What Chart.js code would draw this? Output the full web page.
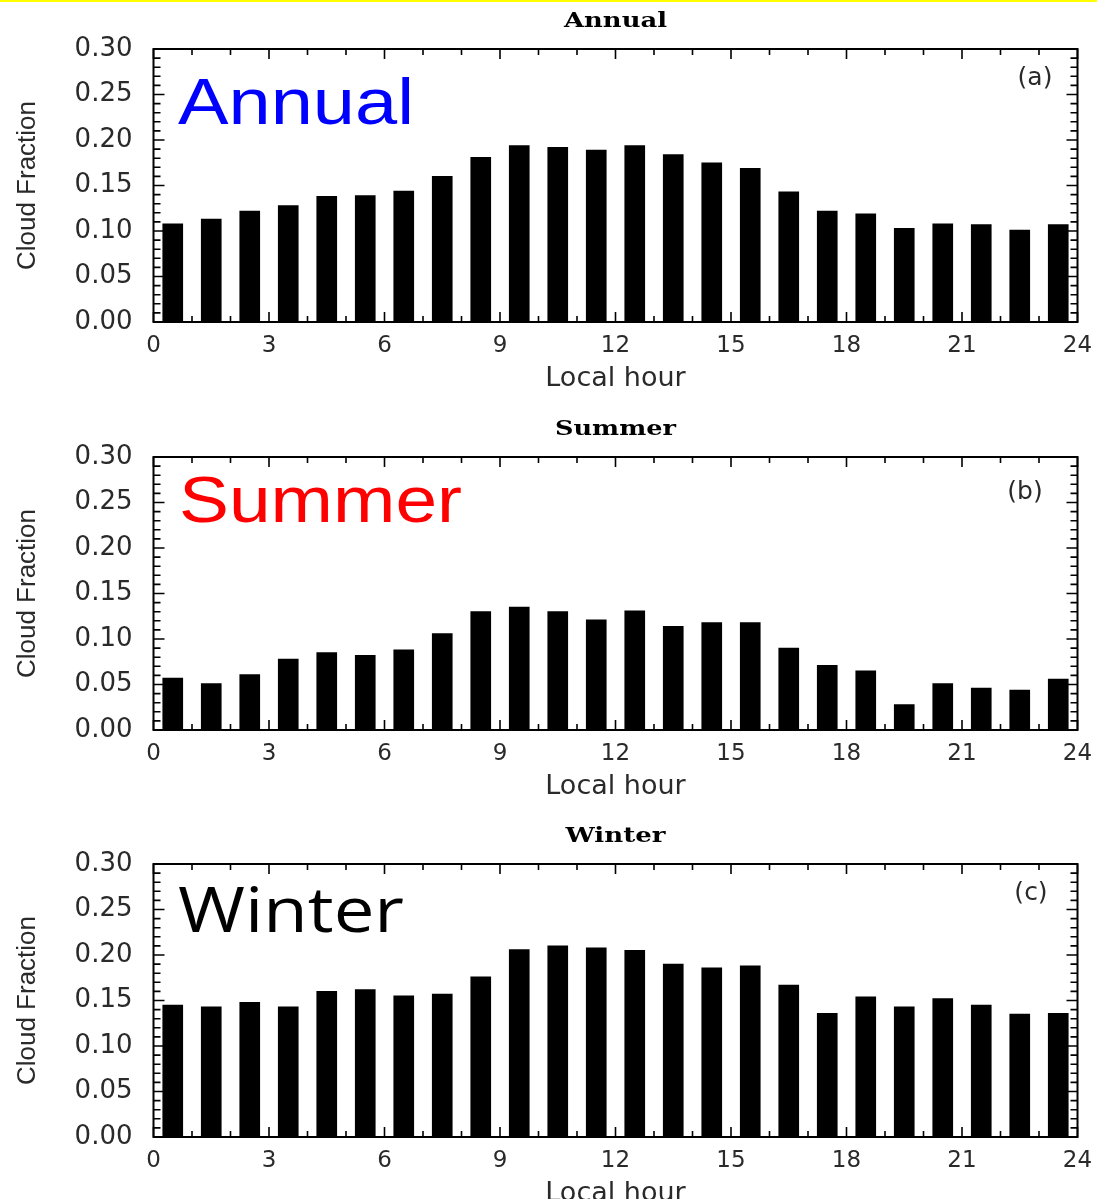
<!DOCTYPE html>
<html>
<head>
<meta charset="utf-8">
<script src="https://cdn.jsdelivr.net/npm/chart.js@4.4.1/dist/chart.umd.min.js"></script>
<style>
  html, body { margin: 0; padding: 0; background: #fff; overflow: hidden; }
  #wrap { position: relative; width: 1097px; height: 1199px; overflow: hidden; background: #fff; }
  canvas { position: absolute; left: 0; }
  #topline { position: absolute; left: 0; top: 0; width: 1097px; height: 2px; background: #ffff00; z-index: 5; }
</style>
</head>
<body>
<div id="wrap">
  <div id="topline"></div>
  <canvas id="c0" width="1097" height="408" style="top:0px"></canvas>
  <canvas id="c1" width="1097" height="408" style="top:408px"></canvas>
  <canvas id="c2" width="1097" height="408" style="top:815px"></canvas>
</div>
<script>
// ---- data ----
const hours = [0.5, 1.5, 2.5, 3.5, 4.5, 5.5, 6.5, 7.5, 8.5, 9.5, 10.5, 11.5,
               12.5, 13.5, 14.5, 15.5, 16.5, 17.5, 18.5, 19.5, 20.5, 21.5, 22.5, 23.5];
const annual = [0.108, 0.113, 0.122, 0.128, 0.138, 0.139, 0.144, 0.160, 0.181, 0.194, 0.192, 0.189,
                0.194, 0.184, 0.175, 0.169, 0.143, 0.122, 0.119, 0.103, 0.108, 0.107, 0.101, 0.107];
const summer = [0.057, 0.051, 0.061, 0.078, 0.085, 0.082, 0.088, 0.106, 0.130, 0.135, 0.130, 0.121,
                0.131, 0.114, 0.118, 0.118, 0.090, 0.071, 0.065, 0.028, 0.051, 0.046, 0.044, 0.056];
const winter = [0.145, 0.143, 0.148, 0.143, 0.160, 0.162, 0.155, 0.157, 0.176, 0.206, 0.210, 0.208,
                0.205, 0.190, 0.186, 0.188, 0.167, 0.136, 0.154, 0.143, 0.152, 0.145, 0.135, 0.136];
const xTickValues = [0, 3, 6, 9, 12, 15, 18, 21, 24];
const xTickLabels = ['0', '3', '6', '9', '12', '15', '18', '21', '24'];
const yTickValues = [0, 0.05, 0.10, 0.15, 0.20, 0.25, 0.30];
const yTickLabels = ['0.00', '0.05', '0.10', '0.15', '0.20', '0.25', '0.30'];
const panelTitles = ['Annual', 'Summer', 'Winter'];
const panelTags = ['(a)', '(b)', '(c)'];
const bigLabels = ['Annual', 'Summer', 'Winter'];
const xAxisTitle = 'Local hour';
const yAxisTitle = 'Cloud Fraction';

// ---- styling ----
const TEXT = '#2a2a2a';
const panelStyles = [
  { tagX: 1035, tagY: 78, bigColor: '#0000ff', bigFamily: '"Liberation Sans", Arial, sans-serif', bigX: 178, bigY: 124, bigW: 236, bigSize: 65, titleW: 103 },
  { tagX: 1025, tagY: 84, bigColor: '#ff0000', bigFamily: '"Liberation Sans", Arial, sans-serif', bigX: 179, bigY: 114, bigW: 283, bigSize: 64, titleW: 121 },
  { tagX: 1031, tagY: 78, bigColor: '#000000', bigFamily: '"Open Sans", Lato, sans-serif', bigX: 178, bigY: 117, bigW: 226, bigSize: 62, titleW: 100 }
];

function fitText(ctx, text, x, y, font, color, targetW, align) {
  ctx.save();
  ctx.font = font;
  ctx.fillStyle = color;
  ctx.textBaseline = 'alphabetic';
  ctx.textAlign = 'left';
  const w = ctx.measureText(text).width;
  const sx = targetW ? targetW / w : 1;
  const left = align === 'center' ? x - (w * sx) / 2 : x;
  ctx.translate(left, y);
  ctx.scale(sx, 1);
  ctx.fillText(text, 0, 0);
  ctx.restore();
}

const decor = {
  id: 'decor',
  afterDatasetsDraw(chart, args, opts) {
    const { ctx, chartArea: a, scales: { x, y } } = chart;
    ctx.save();
    ctx.strokeStyle = '#000';
    ctx.lineWidth = 1.6;
    ctx.beginPath();
    for (let h = 0; h <= 24; h++) {
      const px = x.getPixelForValue(h);
      const len = h % 3 === 0 ? 10 : 6;
      ctx.moveTo(px, a.top); ctx.lineTo(px, a.top + len);
      ctx.moveTo(px, a.bottom); ctx.lineTo(px, a.bottom - len);
    }
    for (let k = 0; k <= 30; k++) {
      const py = y.getPixelForValue(k / 100);
      const len = k % 5 === 0 ? 11 : 7;
      ctx.moveTo(a.left, py); ctx.lineTo(a.left + len, py);
      ctx.moveTo(a.right, py); ctx.lineTo(a.right - len, py);
    }
    ctx.stroke();
    ctx.lineWidth = 2;
    ctx.strokeRect(a.left, a.top, a.right - a.left, a.bottom - a.top);
    ctx.restore();
  },
  afterDraw(chart, args, o) {
    const ctx = chart.ctx;
    fitText(ctx, o.title, 615.5, 27, 'bold 20px "DejaVu Serif", "Liberation Serif", serif', '#000', o.titleW, 'center');
    ctx.save();
    ctx.font = '25px "DejaVu Sans", sans-serif';
    ctx.fillStyle = TEXT;
    ctx.textAlign = 'center';
    ctx.textBaseline = 'middle';
    ctx.fillText(o.tag, o.tagX, o.tagY);
    ctx.restore();
    fitText(ctx, o.big, o.bigX, o.bigY, o.bigSize + 'px ' + o.bigFamily, o.bigColor, o.bigW, 'left');
  }
};

function makeChart(id, values, idx) {
  const st = panelStyles[idx];
  const data = hours.map((h, i) => ({ x: h, y: values[i] }));
  return new Chart(document.getElementById(id), {
    type: 'bar',
    data: {
      datasets: [{
        data: data,
        backgroundColor: '#000',
        borderWidth: 0,
        barThickness: 20
      }]
    },
    options: {
      responsive: false,
      devicePixelRatio: 1,
      animation: false,
      layout: { padding: { top: 49, right: 19.5, bottom: 0, left: 0 } },
      plugins: {
        legend: { display: false },
        tooltip: { enabled: false },
        decor: {
          title: panelTitles[idx], tag: panelTags[idx], big: bigLabels[idx],
          tagX: st.tagX, tagY: st.tagY, bigColor: st.bigColor, bigFamily: st.bigFamily,
          bigX: st.bigX, bigY: st.bigY, bigW: st.bigW, bigSize: st.bigSize, titleW: st.titleW
        }
      },
      scales: {
        x: {
          type: 'linear',
          min: 0, max: 24,
          offset: false,
          grid: { display: false, drawTicks: false, offset: false },
          border: { display: false },
          afterBuildTicks: (s) => { s.ticks = xTickValues.map(v => ({ value: v })); },
          afterFit: (s) => { s.height = 86; s.paddingLeft = 0; s.paddingRight = 0; },
          ticks: {
            padding: 10,
            maxRotation: 0,
            autoSkip: false,
            color: TEXT,
            font: { family: '"DejaVu Sans", sans-serif', size: 23 },
            callback: (v, i) => xTickLabels[i]
          },
          title: {
            display: true,
            text: xAxisTitle,
            color: TEXT,
            font: { family: '"DejaVu Sans", sans-serif', size: 27 },
            padding: { top: 0, bottom: 13 }
          }
        },
        y: {
          min: 0, max: 0.3,
          grid: { display: false, drawTicks: false },
          border: { display: false },
          afterBuildTicks: (s) => { s.ticks = yTickValues.map(v => ({ value: v })); },
          afterFit: (s) => { s.width = 153.5; s.paddingTop = 0; s.paddingBottom = 0; },
          ticks: {
            padding: 21,
            autoSkip: false,
            color: TEXT,
            font: { family: '"DejaVu Sans", sans-serif', size: 26 },
            callback: (v, i) => yTickLabels[i]
          },
          title: {
            display: true,
            text: yAxisTitle,
            color: TEXT,
            font: { family: '"Liberation Sans", Arial, sans-serif', size: 26 },
            padding: { top: 12, bottom: 0 }
          }
        }
      }
    },
    plugins: [decor]
  });
}

makeChart('c0', annual, 0);
makeChart('c1', summer, 1);
makeChart('c2', winter, 2);
</script>
</body>
</html>
